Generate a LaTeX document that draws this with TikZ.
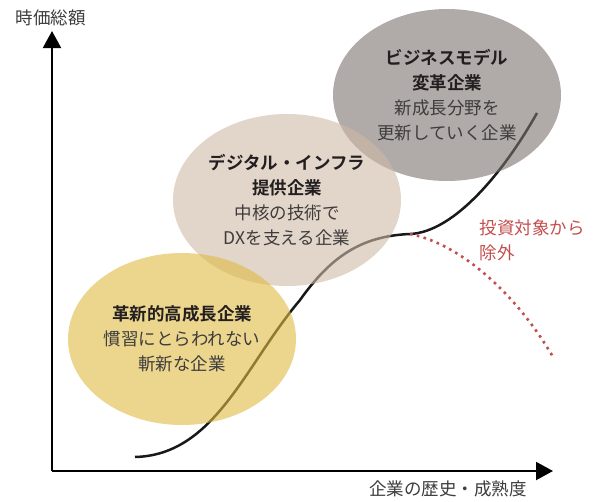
\documentclass[tikz,border=0pt]{standalone}
\usepackage{fontspec}
\setmainfont{Noto Sans CJK JP}[BoldFont={Noto Sans CJK JP Bold}]
\usetikzlibrary{arrows.meta,positioning,shapes.geometric}
\definecolor{bizgray}{RGB}{123,113,110}
\definecolor{digibeige}{RGB}{207,185,165}
\definecolor{innoyellow}{RGB}{223,187,67}
\definecolor{exitred}{RGB}{196,78,78}
\definecolor{headtext}{RGB}{35,31,32}
\definecolor{bodytext}{RGB}{62,60,60}
\tikzset{%
	axis/.style    = {line width=2pt, -{Triangle[length=17pt,width=18pt]}},
	trend/.style   = {line width=2.5pt, black!90},
	exitline/.style= {line width=2.6pt, exitred, dash pattern=on 2.6pt off 4.4pt},
	bubble/.style  = {ellipse, minimum width=228pt, minimum height=172pt, inner sep=0pt, fill opacity=0.6, text opacity=1, align=center, text=bodytext, font=\fontsize{17.5}{25}\selectfont},
	label/.style   = {text=bodytext, font=\fontsize{17.5}{25}\selectfont},
}
\newcommand{\head}[1]{{\bfseries\color{headtext}#1}}

\begin{document}
\begin{tikzpicture}[x=1pt,y=-1pt]
	\useasboundingbox (0,0) rectangle (602,501);
	
	% axes
	\coordinate (origin) at (52,471);
	\coordinate (ytip) at (52,31);
	\coordinate (xtip) at (553,471);
	\draw[axis] (origin) -- (ytip);
	\draw[axis] (origin) -- (xtip);
	\node[label] (ylabel) at (51,18) {時価総額};
	\node[label] (xlabel) at (448,489) {企業の歴史・成熟度};
	
	% growth curve
	\coordinate (start) at (135,457);
	\coordinate (plateau) at (410,234);
	\coordinate (top) at (537,113);
	\draw[trend] (start) .. controls (215,455) and (245,365) .. (300,300)
		.. controls (330,258) and (360,236) .. (plateau)
		.. controls (455,232) and (505,170) .. (top);
	
	% company types
	\node[bubble, fill=bizgray] (bizmodel) at (447,95)
		{\head{ビジネスモデル}\\ \head{変革企業}\\ 新成長分野を\\ 更新していく企業};
	\node[bubble, fill=digibeige] (digital) at (287,200)
		{\head{デジタル・インフラ}\\ \head{提供企業}\\ 中核の技術で\\ DXを支える企業};
	\node[bubble, fill=innoyellow] (innovator) at (182,339)
		{\head{革新的高成長企業}\\ 慣習にとらわれない\\ 斬新な企業};
	
	% excluded branch
	\coordinate (fall) at (553,357);
	\draw[exitline] (plateau) .. controls (465,245) and (520,300) .. (fall);
	\node[label, text=exitred, align=left, anchor=west] (exclude) at (476,240) {投資対象から\\除外};
\end{tikzpicture}
\end{document}
